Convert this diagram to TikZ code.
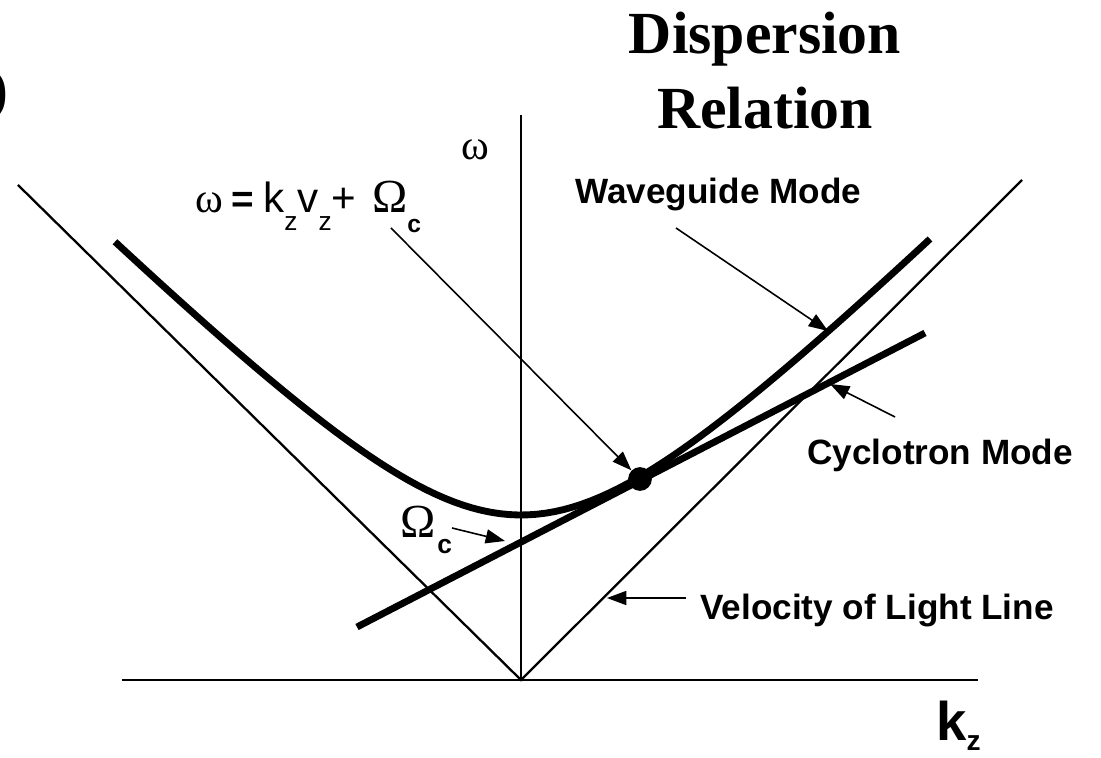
\documentclass[tikz,border=0pt]{standalone}
\usepackage{fontspec}
\setmainfont{Liberation Sans}
\newfontfamily\titlefont{Liberation Serif}
\usetikzlibrary{arrows.meta}

% lowered subscript as in the drawing: [drop]{size}{text}
\newcommand{\lowsub}[3][4pt]{\raisebox{-#1}{\fontsize{#2}{#2}\selectfont #3}}

\begin{document}
\begin{tikzpicture}[x=0.02cm, y=0.02cm,
    axisline/.style={line width=1.6pt},
    lightline/.style={line width=1.3pt},
    modeline/.style={line width=3.9pt},
    leader/.style={line width=0.9pt, -{Triangle[length=11pt, width=8pt]}},
    label/.style={font=\bfseries\fontsize{20}{24}\selectfont, inner sep=0pt}]

  \useasboundingbox (-521,-77) rectangle (580,680);

  % Title
  \node[font=\titlefont\bfseries\fontsize{34}{42.5}\selectfont, align=center,
        anchor=north, inner sep=0pt] (title) at (244,668) {Dispersion\\Relation};
  \node[font=\titlefont\bfseries\fontsize{34}{40}\selectfont, anchor=east,
        inner sep=0pt] (panel) at (-512,585) {)};

  % Axes
  \coordinate (O) at (0,0);
  \coordinate (kmin) at (-399,0);
  \coordinate (kmax) at (457,0);
  \coordinate (wmax) at (0,565);
  \draw[axisline] (kmin) -- (kmax);
  \draw[axisline] (O) -- (wmax);
  \node[font=\titlefont\fontsize{24}{24}\selectfont, inner sep=0pt] (wlab) at (-46,530) {ω};
  \node[font=\bfseries\fontsize{31}{31}\selectfont, anchor=base west, inner sep=0pt]
       (klab) at (415,-60) {k\lowsub[6pt]{16}{z}};

  % Light lines
  \coordinate (cl) at (-503,495);
  \coordinate (cr) at (501,500);
  \draw[lightline] (cl) -- (O) -- (cr);

  % Waveguide mode (hyperbola) and cyclotron mode (straight line)
  \draw[modeline] plot[domain=-406:409, samples=90]
       (\x, {100*sqrt(2.7225+(\x/100)^2)});
  \coordinate (cyc1) at (-164,53);
  \coordinate (cyc2) at (404,347);
  \draw[modeline] (cyc1) -- (cyc2);

  % Grazing point
  \node[circle, fill, minimum size=13.5pt, inner sep=0pt] (graze) at (119,201) {};

  % Labels
  \node[anchor=base west, inner sep=0pt] (formula) at (-326,467)
       {{\titlefont\fontsize{24}{24}\selectfont ω}\hspace{5pt}{\bfseries\fontsize{22}{22}\selectfont =}\hspace{5pt}{\fontsize{24}{24}\selectfont k\lowsub[10pt]{15}{z}v\lowsub[10pt]{15}{z}+\hspace{9pt}{\titlefont\fontsize{27}{27}\selectfont Ω}\lowsub[11pt]{14}{\bfseries c}}};
  \node[label, anchor=west] (wglab) at (54,486) {Waveguide Mode};
  \node[label, anchor=west] (cyclab) at (286,225) {Cyclotron Mode};
  \node[label, anchor=west] (vllab) at (179,70) {Velocity of Light Line};
  \node[font=\titlefont\fontsize{27}{27}\selectfont, anchor=base west, inner sep=0pt]
       (omlab) at (-121,142) {Ω\hspace{1pt}\lowsub[9pt]{15}{\fontspec{Liberation Sans}\bfseries c}};

  % Leaders
  \coordinate (formtail) at (-130,452);
  \coordinate (wgtail) at (155,452);
  \coordinate (wghead) at (307,349);
  \coordinate (cyctail) at (374,263);
  \coordinate (cychead) at (309,296);
  \coordinate (vltail) at (165,82);
  \coordinate (vlhead) at (86,82);
  \coordinate (omtail) at (-69,152);
  \coordinate (omhead) at (-16,139);
  \draw[leader] (formtail) -- (graze);
  \draw[leader] (wgtail) -- (wghead);
  \draw[leader] (cyctail) -- (cychead);
  \draw[leader] (vltail) -- (vlhead);
  \draw[leader] (omtail) -- (omhead);
\end{tikzpicture}
\end{document}
